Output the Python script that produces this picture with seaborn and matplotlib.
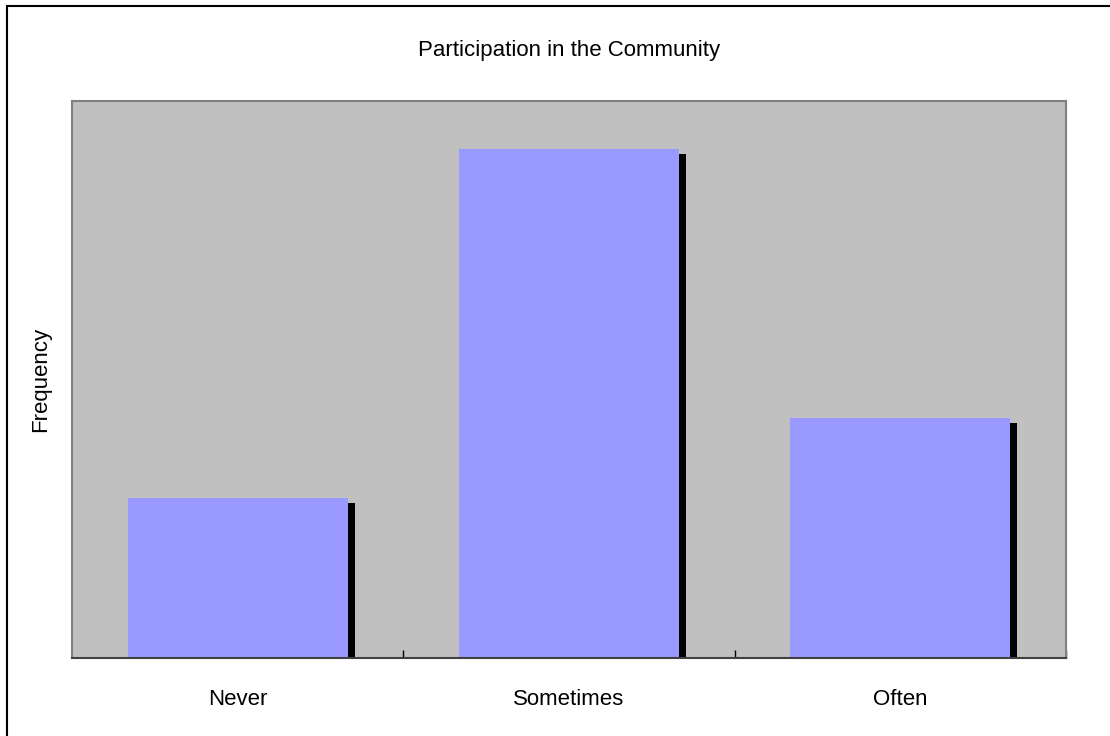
import matplotlib
matplotlib.use("Agg")
import matplotlib.pyplot as plt
import matplotlib.patheffects as pe
from matplotlib.patches import Rectangle
import seaborn as sns
import pandas as pd

categories = ["Never", "Sometimes", "Often"]
frequencies = [16, 51, 24]

sns.set_theme(style="white")
plt.rcParams["font.family"] = ["Liberation Sans", "DejaVu Sans"]

df = pd.DataFrame({"category": categories, "frequency": frequencies})

fig = plt.figure(figsize=(11.1, 7.36), dpi=100)
ax = fig.add_axes([72 / 1110, 78 / 736, 994 / 1110, 557 / 736])
ax.set_facecolor("#C0C0C0")

sns.barplot(data=df, x="category", y="frequency", color="#9999FF",
            saturation=1, width=0.664, ax=ax, zorder=2)

# drop shadow to the lower right of each bar
for bar in ax.patches:
    bar.set_edgecolor("none")
    bar.set_path_effects([
        pe.SimplePatchShadow(offset=(5, -3.6), shadow_rgbFace="black", alpha=1),
        pe.Normal(),
    ])

ax.set_xlim(-0.5, 2.5)
ax.set_ylim(0, 55.8)
ax.set_yticks([])
ax.set_xticks(range(len(categories)))
ax.set_xticklabels(categories, fontsize=16)
ax.tick_params(axis="x", which="major", bottom=True, length=0, pad=22.5,
               colors="black")
ax.set_xticks([0.5, 1.5, 2.5], minor=True)
ax.tick_params(axis="x", which="minor", bottom=True, direction="in",
               length=6, width=1, color="black")
ax.set_xlabel("")
ax.set_ylabel("Frequency", fontsize=16, labelpad=15, color="black")
ax.set_title("Participation in the Community", fontsize=16, pad=32.5,
             color="black")

for side in ("left", "top", "right"):
    ax.spines[side].set_visible(True)
    ax.spines[side].set_color("#808080")
    ax.spines[side].set_linewidth(1.5)
ax.spines["bottom"].set_color("#404040")
ax.spines["bottom"].set_linewidth(1.5)
ax.spines["bottom"].set_zorder(3)

# chart-area border
fig.patches.append(Rectangle((7 / 1110, -0.05), 1.2, 1 - 6 / 736 + 0.05,
                             transform=fig.transFigure, fill=False,
                             edgecolor="black", linewidth=1.5))

fig.savefig("out.png", dpi=100, facecolor="white")
